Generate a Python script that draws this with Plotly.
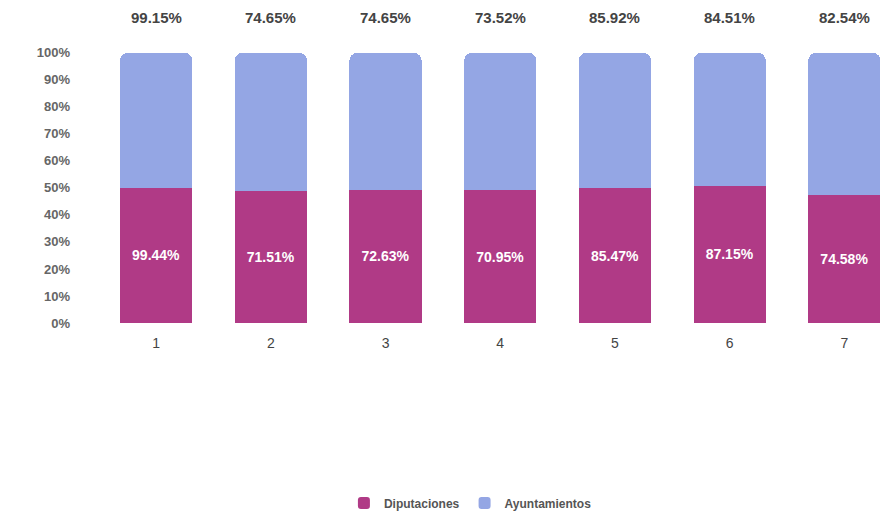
import plotly.graph_objects as go

categories = ["1", "2", "3", "4", "5", "6", "7"]
diputaciones = [99.44, 71.51, 72.63, 70.95, 85.47, 87.15, 74.58]
ayuntamientos = [99.15, 74.65, 74.65, 73.52, 85.92, 84.51, 82.54]
y_ticks = [0, 10, 20, 30, 40, 50, 60, 70, 80, 90, 100]

font_family = "Liberation Sans, Arial, sans-serif"
pink = "#b03a86"
blue = "#94a6e4"

fig = go.Figure()
fig.add_trace(go.Bar(
    x=categories, y=diputaciones, name="<b>Diputaciones</b>",
    marker=dict(color=pink, line=dict(width=0)),
    text=[f"<b>{v:.2f}%</b>" for v in diputaciones],
    textposition="inside", insidetextanchor="middle",
    textfont=dict(color="white", size=14, family=font_family),
    hoverinfo="skip",
))
fig.add_trace(go.Bar(
    x=categories, y=ayuntamientos, name="<b>Ayuntamientos</b>",
    marker=dict(color=blue, line=dict(width=0)),
    hoverinfo="skip",
))

for i, v in enumerate(ayuntamientos):
    fig.add_annotation(x=i, y=100, xref="x", yref="y", text=f"<b>{v:.2f}%</b>",
                       showarrow=False, yshift=35,
                       font=dict(color="#444444", size=15, family=font_family))

fig.update_layout(
    width=888, height=514,
    barmode="stack", barnorm="percent", bargap=0.37, barcornerradius=8,
    paper_bgcolor="white", plot_bgcolor="white",
    margin=dict(l=85, r=0, t=15, b=199),
    font=dict(family=font_family, color="#555555", size=13),
    showlegend=True,
    legend=dict(orientation="h", x=0.47, xanchor="center", y=-0.6, yanchor="middle",
                font=dict(size=12, color="#555555"), traceorder="normal"),
    xaxis=dict(showgrid=False, showline=False, zeroline=False, ticks="",
               tickfont=dict(size=14, color="#444444"), range=[-0.55, 6.45],
               ticklabelstandoff=10),
    yaxis=dict(range=[0, 111], tickvals=y_ticks,
               ticktext=[f"<b>{v}%</b>" for v in y_ticks],
               showgrid=False, showline=False, zeroline=False,
               tickfont=dict(size=13, color="#666666"), ticklabelstandoff=22),
)

fig.write_html("out.html")
